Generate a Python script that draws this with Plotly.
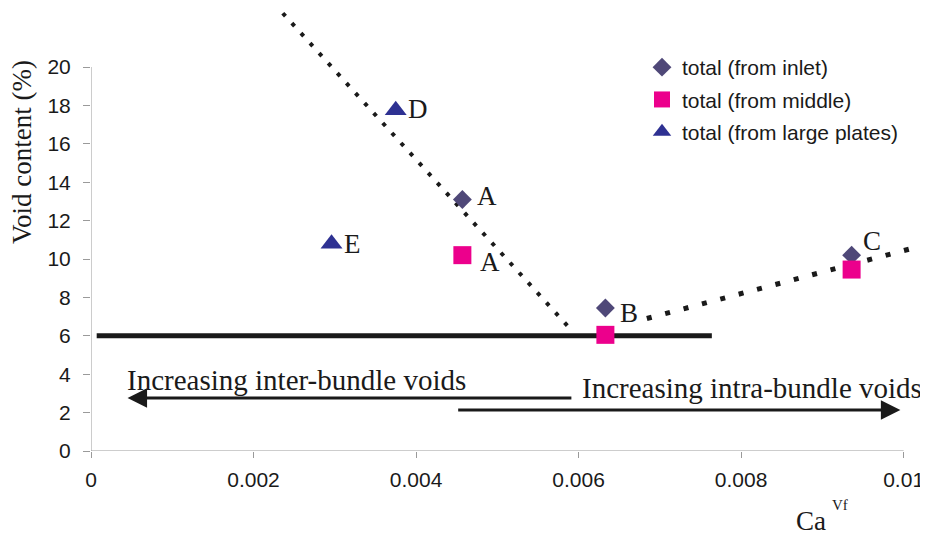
import plotly.graph_objects as go

# ---- data ----
inlet_x = [0.00457, 0.00633, 0.00936]
inlet_y = [13.1, 7.45, 10.2]
inlet_lbl = ["A", "B", "C"]

middle_x = [0.00457, 0.00633, 0.00936]
middle_y = [10.2, 6.05, 9.45]
middle_lbl = ["A", "", ""]

plates_x = [0.00375, 0.00296]
plates_y = [17.75, 10.8]
plates_lbl = ["D", "E"]

trend1_x = [0.00236, 0.00590]
trend1_y = [22.8, 6.35]
trend2_x = [0.00684, 0.01010]
trend2_y = [6.9, 10.55]

thresh_x = [0.00007, 0.00764]
thresh_y = [6, 6]

inter_arrow = dict(tail=(0.00593, 2.76), head=(0.00045, 2.76), text="Increasing inter-bundle voids", tpos=(0.00253, 3.7))
intra_arrow = dict(tail=(0.00450, 2.14), head=(0.00996, 2.14), text="Increasing intra-bundle voids", tpos=(0.00814, 3.3))

x_ticks = [0, 0.002, 0.004, 0.006, 0.008, 0.01]
x_ticktext = ["0", "0.002", "0.004", "0.006", "0.008", "0.01"]
y_ticks = [0, 2, 4, 6, 8, 10, 12, 14, 16, 18, 20]

C_INLET = "#4f4878"
C_MIDDLE = "#ec008c"
C_PLATES = "#2e3192"
SERIF = "Liberation Serif"
SANS = "Liberation Sans"

# page geometry (figure is placed at 8px offset in page)
OFF = 8
PLOT_L, PLOT_B, PLOT_W, PLOT_H = 91, 451, 837, 443


def px2paper(px, py):
    return (px - PLOT_L) / PLOT_W, (PLOT_B - py) / PLOT_H


fig = go.Figure()

fig.add_trace(go.Scatter(x=trend1_x, y=trend1_y, mode="lines", showlegend=False,
                         line=dict(color="#1a1a1a", width=4, dash="4px,9.5px"), hoverinfo="skip"))
fig.add_trace(go.Scatter(x=trend2_x, y=trend2_y, mode="lines", showlegend=False,
                         line=dict(color="#1a1a1a", width=5, dash="5px,14px"), hoverinfo="skip"))
fig.add_trace(go.Scatter(x=thresh_x, y=thresh_y, mode="lines", showlegend=False,
                         line=dict(color="#1a1a1a", width=5), hoverinfo="skip"))

fig.add_trace(go.Scatter(x=inlet_x, y=inlet_y, mode="markers", name="total (from inlet)", legendgroup="g1",
                         marker=dict(symbol="diamond", size=14.5, color=C_INLET), cliponaxis=False))
fig.add_trace(go.Scatter(x=middle_x, y=middle_y, mode="markers", name="total (from middle)", legendgroup="g2",
                         marker=dict(symbol="square", size=18, color=C_MIDDLE), cliponaxis=False))
fig.add_trace(go.Scatter(x=plates_x, y=plates_y, mode="markers", name="total (from large plates)", legendgroup="g3",
                         marker=dict(symbol="triangle-up", size=19, color=C_PLATES), cliponaxis=False))

annotations = []
LBL_FONT = dict(family=SERIF, size=27, color="#1a1a1a")
shifts_inlet = [(13, 3), (13, -5), (9, 14)]
for x, y, t, (dx, dy) in zip(inlet_x, inlet_y, inlet_lbl, shifts_inlet):
    annotations.append(dict(x=x, y=y, text=t, showarrow=False, xanchor="left", yanchor="middle",
                            xshift=dx, yshift=dy, font=LBL_FONT))
shifts_middle = [(16, -7), (0, 0), (0, 0)]
for x, y, t, (dx, dy) in zip(middle_x, middle_y, middle_lbl, shifts_middle):
    if t:
        annotations.append(dict(x=x, y=y, text=t, showarrow=False, xanchor="left", yanchor="middle",
                                xshift=dx, yshift=dy, font=LBL_FONT))
shifts_plates = [(10, 1), (10, 0)]
for x, y, t, (dx, dy) in zip(plates_x, plates_y, plates_lbl, shifts_plates):
    annotations.append(dict(x=x, y=y, text=t, showarrow=False, xanchor="left", yanchor="middle",
                            xshift=dx, yshift=dy, font=LBL_FONT))

for a in (inter_arrow, intra_arrow):
    annotations.append(dict(x=a["head"][0], y=a["head"][1], ax=a["tail"][0], ay=a["tail"][1],
                            xref="x", yref="y", axref="x", ayref="y", text="", showarrow=True,
                            arrowhead=2, arrowsize=1.3, arrowwidth=3, arrowcolor="#1a1a1a"))
    annotations.append(dict(x=a["tpos"][0], y=a["tpos"][1], text=a["text"], showarrow=False,
                            xanchor="center", yanchor="middle",
                            font=dict(family=SERIF, size=29, color="#1a1a1a")))

tx, ty = px2paper(22, 152)
annotations.append(dict(xref="paper", yref="paper", x=tx, y=ty, text="Void content (%)", textangle=-90,
                        showarrow=False, xanchor="center", yanchor="middle",
                        font=dict(family=SERIF, size=27, color="#1a1a1a")))
cx, cy = px2paper(828, 521)
annotations.append(dict(xref="paper", yref="paper", x=cx, y=cy, text="Ca", showarrow=False,
                        xanchor="right", yanchor="middle", font=dict(family=SERIF, size=27, color="#1a1a1a")))
vx, vy = px2paper(830, 505)
annotations.append(dict(xref="paper", yref="paper", x=vx, y=vy, text="Vf", showarrow=False,
                        xanchor="left", yanchor="middle", font=dict(family=SERIF, size=15, color="#1a1a1a")))

shapes = [
    dict(type="line", xref="x", yref="y", x0=0, x1=0, y0=0, y1=20, line=dict(color="#9a9a9a", width=1)),
    dict(type="line", xref="x", yref="y", x0=0, x1=0.01, y0=0, y1=0, line=dict(color="#9a9a9a", width=1)),
]

lx, ly = px2paper(642, 47)
fig.update_layout(
    width=928 - OFF, height=545 - OFF,
    margin=dict(l=PLOT_L - OFF, r=0, t=0, b=545 - PLOT_B, pad=0),
    paper_bgcolor="white", plot_bgcolor="white",
    showlegend=True,
    legend=dict(x=lx, y=ly, xanchor="left", yanchor="top", traceorder="grouped",
                font=dict(family=SANS, size=21, color="#1a1a1a"), bgcolor="rgba(0,0,0,0)",
                tracegroupgap=2),
    annotations=annotations,
    shapes=shapes,
    xaxis=dict(range=[0, 0.0103], tickvals=x_ticks, ticktext=x_ticktext, showgrid=False, zeroline=False,
               showline=False, ticks="outside", ticklen=6, tickcolor="#9a9a9a",
               tickfont=dict(family=SANS, size=21, color="#1a1a1a"), ticklabelstandoff=4),
    yaxis=dict(range=[0, PLOT_H / 19.2], tickvals=y_ticks, showgrid=False, zeroline=False, showline=False,
               ticks="outside", ticklen=7, tickcolor="#9a9a9a",
               tickfont=dict(family=SANS, size=21, color="#1a1a1a"), ticklabelstandoff=8),
)

fig.write_html("out.html")
